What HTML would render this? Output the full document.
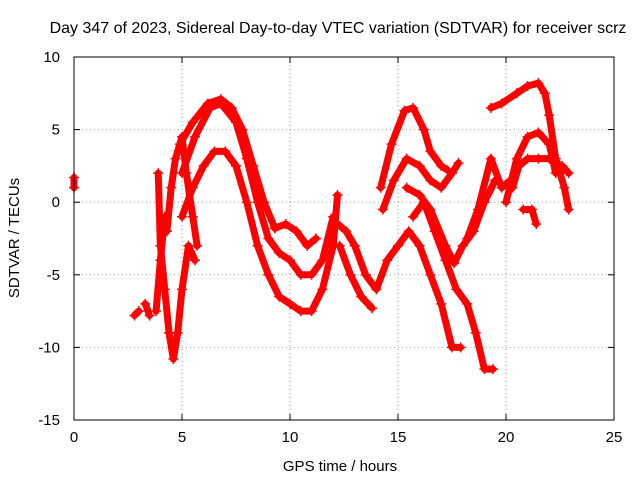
<!DOCTYPE html>
<html><head><meta charset="utf-8"><style>
body{margin:0;background:#fff}
svg text{font-family:"Liberation Sans",sans-serif;font-size:15px;fill:#000}
</style></head><body>
<svg id="chart" width="640" height="480" xmlns="http://www.w3.org/2000/svg">
<rect width="640" height="480" fill="#fff"/>
<text x="338" y="33" text-anchor="middle" style="font-size:16px">Day 347 of 2023, Sidereal Day-to-day VTEC variation (SDTVAR) for receiver scrz</text>
<g id="grid"></g>
<g id="series"></g>
<rect x="74" y="57" width="540" height="363" fill="none" stroke="#000"/>
<g id="axes"></g>
<text x="340" y="471" text-anchor="middle">GPS time / hours</text>
<text transform="translate(19,238) rotate(-90)" text-anchor="middle">SDTVAR / TECUs</text>
</svg>
<script>
const xTicks=[0,5,10,15,20,25];
const yTicks=[10,5,0,-5,-10,-15];
const track1=[[4.9,4],[5.5,5.5],[6.2,6.8],[6.8,7.1],[7.3,6.5],[7.8,5],[8.3,2.5],[8.8,0],[9.3,-1.8],[9.8,-1.5],[10.3,-2],[10.8,-3],[11.2,-2.5]];
const track2=[[5,2],[5.6,4.5],[6.3,6.5],[6.8,6.8],[7.5,5.5],[8,3],[8.5,0],[9,-2.5],[9.5,-3.5],[10,-4],[10.5,-5],[11,-5],[11.5,-4],[12,-1]];
const track3=[[5,-1],[5.5,1],[6,2.5],[6.5,3.5],[7,3.5],[7.5,2.5],[8,0],[8.5,-3],[9,-5],[9.5,-6.5],[10,-7],[10.5,-7.5],[11,-7.5],[11.5,-6],[12,-3],[12.2,0.5]];
const track4=[[3.9,2],[4,-3],[4.2,-6],[4.4,-9],[4.6,-10.8],[4.8,-9],[5,-6],[5.3,-3],[5.6,-4]];
const track5=[[4.3,-2],[4.5,1],[4.7,3],[5,4.5],[5.2,2],[5.5,-1],[5.7,-3]];
const track6=[[2.8,-7.8],[3,-7.5]];
const track7=[[3.3,-7],[3.5,-7.8]];
const track8=[[3.8,-7.5],[4,-4],[4.2,-1]];
const track9=[[12.2,-1.5],[12.6,-2],[13,-3],[13.5,-5],[14,-6],[14.5,-4],[15,-3],[15.5,-2],[16,-3],[16.5,-5],[17,-7],[17.5,-10],[17.9,-10]];
const track10=[[12.3,-3],[12.8,-5],[13.3,-6.5],[13.8,-7.3]];
const track11=[[14.2,1],[14.7,4],[15.3,6.3],[15.7,6.5],[16.2,5],[16.5,3.5],[17,2.5],[17.3,2.2]];
const track12=[[14.3,-0.5],[14.8,1.5],[15.4,3],[16,2.5],[16.5,1.5],[17,1],[17.5,2],[17.8,2.7]];
const track13=[[15.7,-1],[16.2,0],[16.7,-2],[17.2,-4],[17.7,-6],[18.2,-7],[18.6,-9],[19,-11.5],[19.4,-11.5]];
const track14=[[15.4,1],[16,0.5],[16.5,-0.5],[17.2,-3],[17.6,-4.2],[18,-3],[18.5,-2],[19,0],[19.5,1.5]];
const track15=[[18.2,-2.5],[18.7,-0.5],[19.3,3],[19.8,1],[20.2,1.5]];
const track16=[[19.3,6.5],[19.8,6.8],[20.5,7.5],[21,8],[21.5,8.2],[21.8,7.5],[22,6],[22.3,3],[22.7,1],[22.9,-0.5]];
const track17=[[20,0],[20.5,3],[21,4.5],[21.5,4.8],[22,4],[22.3,2],[22.6,2.5],[22.9,2]];
const track18=[[20.3,1],[20.6,2.5],[21,3],[21.5,3],[22,3],[22.5,2.5]];
const track19=[[20.8,-0.5],[21.2,-0.5],[21.4,-1.5]];
const track20=[[0,1.7],[0,1]];
const tracks=[track1,track2,track3,track4,track5,track6,track7,track8,track9,track10,track11,track12,track13,track14,track15,track16,track17,track18,track19,track20];

const NS="http://www.w3.org/2000/svg";
const X0=74,X1=614,Y0=57,Y1=420;
const xs=v=>X0+(v-0)/25*(X1-X0);
const ys=v=>Y0+(10-v)/25*(Y1-Y0);
const grid=document.getElementById('grid'),axes=document.getElementById('axes'),ser=document.getElementById('series');
function mk(tag,attrs,parent){const e=document.createElementNS(NS,tag);for(const k in attrs)e.setAttribute(k,attrs[k]);parent.appendChild(e);return e;}
xTicks.forEach(t=>{
 const x=xs(t);
 if(t>0&&t<25){const g=mk('line',{x1:x,x2:x,y1:Y0,y2:Y1,stroke:'#999','stroke-dasharray':'1,3'},grid);
 
 }
 const l=mk('text',{x:x,y:Y1+22,'text-anchor':'middle'},axes);l.textContent=t;
 
 
 mk('line',{x1:x,x2:x,y1:Y1,y2:Y1-6,stroke:'#000'},axes);
 mk('line',{x1:x,x2:x,y1:Y0,y2:Y0+6,stroke:'#000'},axes);
});
yTicks.forEach(t=>{
 const y=ys(t);
 if(t<10&&t>-15){const g=mk('line',{x1:X0,x2:X1,y1:y,y2:y,stroke:'#999','stroke-dasharray':'1,3'},grid);
 
 }
 const l=mk('text',{x:X0-14,y:y+5,'text-anchor':'end'},axes);l.textContent=t;
 
 
 mk('line',{x1:X0,x2:X0+6,y1:y,y2:y,stroke:'#000'},axes);
 mk('line',{x1:X1,x2:X1-6,y1:y,y2:y,stroke:'#000'},axes);
});
tracks.forEach(tr=>{
 const pts=tr.map(p=>xs(p[0])+','+ys(p[1])).join(' ');
 const pl=mk('polyline',{points:pts,fill:'none',stroke:'#f00','stroke-width':7,'stroke-linejoin':'round','stroke-linecap':'round'},ser);
 
 
 tr.forEach(p=>{
  const x=xs(p[0]),y=ys(p[1]);
  const m=mk('path',{d:`M${x-5},${y}H${x+5}M${x},${y-5}V${y+5}`,stroke:'#f00','stroke-width':1.5},ser);
  
  
 });
});
</script>
</body></html>
